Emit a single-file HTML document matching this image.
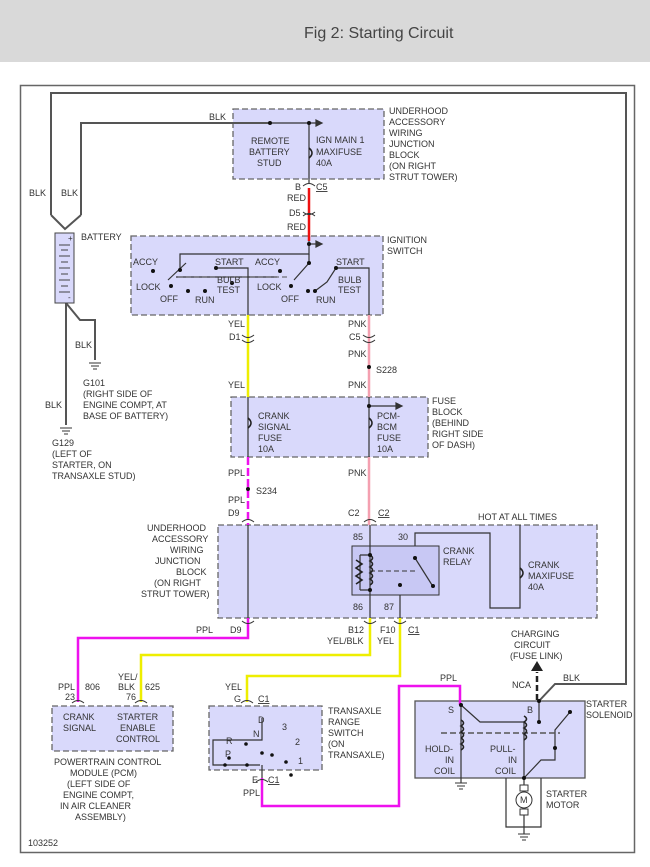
<!DOCTYPE html>
<html><head><meta charset="utf-8"><style>
html,body{margin:0;padding:0;background:#fff;}
svg{display:block}
text{font-family:"Liberation Sans",sans-serif;font-size:9px;fill:#333}
</style></head><body>
<svg width="650" height="867" viewBox="0 0 650 867" xmlns="http://www.w3.org/2000/svg">
<rect x="0" y="0" width="650" height="62" fill="#d9d9d9"/>
<text x="304" y="38" style="font-size:16px;fill:#444">Fig 2: Starting Circuit</text>
<rect x="20.5" y="85.5" width="614" height="767" fill="none" stroke="#666" stroke-width="1.5"/>

<g fill="#d9d9fb" stroke="#666" stroke-width="1.3" stroke-dasharray="6,3">
<rect x="233" y="109" width="151" height="70"/>
<rect x="131" y="236" width="252" height="79"/>
<rect x="231" y="397" width="197" height="60"/>
<rect x="218" y="525" width="379" height="93"/>
<rect x="52" y="706" width="121" height="45"/>
<rect x="209" y="706" width="113" height="64"/>
</g>
<rect x="415" y="701" width="170" height="77" fill="#d9d9fb" stroke="#555" stroke-width="1.3"/>
<rect x="352" y="546" width="87" height="49" fill="#c8c8f4" stroke="#333" stroke-width="1"/>

<g fill="none" stroke="#555" stroke-width="2">
<path d="M51 215 V93 H626 V684 H555 L539 701"/>
<path d="M81 215 V123 H270"/>
<path d="M51 215 L65 229 L81 215"/>
<path d="M66 303 L80 320 H95 V360"/>
<path d="M66 303 V425"/>
</g>
<g fill="none" stroke="#333" stroke-width="1.2">
<path d="M270 123 H320"/><path d="M316 120 L322 123 L316 126Z" fill="#333"/>
<path d="M309 123 V183"/>
<path d="M309 241 V254 H180 V270"/>
<path d="M309 244 H320"/><path d="M316 241 L322 244 L316 247Z" fill="#333"/>
<path d="M309 254 V263 L294 280"/>
<path d="M186 263 L168 280"/>
<path d="M176 277 H277"/>
<path d="M216 268 H248 V315"/>
<path d="M336 268 H369 V315"/>
<path d="M336 268 L327 282 L315 291"/>
<path d="M248 397 V457"/><path d="M369 397 V457"/>
<path d="M369 406 H400"/><path d="M396 403 L402 406 L396 409Z" fill="#333"/>
<path d="M248 525 V618"/>
<path d="M370 525 V618"/><path d="M400 595 V618"/>
<path d="M415 546 V533 H490 V608 H520 V525"/>
<path d="M360 555 V590 M360 555 H370 M360 590 H370"/>
<path d="M415 558 L432 585"/>
<path d="M262 718 V740 H213 V765 H260"/>
<path d="M262 765 V778"/>
<path d="M461 705 V778"/>
<path d="M461 705 L480 722 H524 V778"/>
<path d="M539 701 V722"/>
<path d="M524 778 L541 760 H555 V730 L570 712"/>
<path d="M506 778 V827 H541 V778"/>
<path d="M524 778 V785 M524 815 V834"/>
<path d="M461 778 V783"/>
</g>
<path d="M441 733 H560" stroke="#555" stroke-width="1.5" stroke-dasharray="6,3"/>
<path d="M370 571 H415" stroke="#333" stroke-width="1" stroke-dasharray="5,3"/>
<path d="M178 277 H290" stroke="#555" stroke-dasharray="5,3" stroke-width="1"/>
<path d="M537 700 V672" stroke="#222" stroke-width="2.5" stroke-dasharray="6,3"/>
<path d="M531 671 L537 661 L543 671Z" fill="#222"/>
<g fill="none" stroke="#222" stroke-width="1.6">
<path d="M461 738 q5 -3 0 -6 q5 -3 0 -6 q5 -3 0 -6"/>
<path d="M461 750 q5 -3 0 -6 q5 -3 0 -6"/>
<path d="M524 740 q5 -3 0 -6 q5 -3 0 -6 q5 -3 0 -6 q5 -3 0 -6"/>
<path d="M370 585 q5 -3 0 -6 q5 -3 0 -6 q5 -3 0 -6 q5 -3 0 -6 q5 -3 0 -6"/>
<path d="M356 560 l6 4 l-6 4 l6 4 l-6 4 l6 4 l-6 4"/>
<path d="M309 148 q6 5 0 10 M248 418 q6 5 0 10 M369 418 q6 5 0 10 M520 568 q6 5 0 10"/>
</g>
<circle cx="524" cy="800" r="8" fill="#fff" stroke="#333"/><text x="520" y="803">M</text>
<rect x="520" y="785" width="8" height="6" fill="none" stroke="#333"/><rect x="520" y="809" width="8" height="6" fill="none" stroke="#333"/>
<g fill="none" stroke-width="2.5">
<path d="M309 188 V241" stroke="#ee1111"/>
<path d="M248 315 V397" stroke="#eeee00"/>
<path d="M369 315 V397 M369 457 V525" stroke="#f4a0b0"/>
<path d="M248 457 V525" stroke="#ee11ee" stroke-dasharray="8,3"/>
<path d="M248 618 V638 H78 V702" stroke="#ee11ee"/>
<path d="M370 618 V655 H141 V702" stroke="#eeee00"/>
<path d="M400 618 V676 H247 V702" stroke="#eeee00"/>
<path d="M262 778 V806 H399 V686 H460 V705" stroke="#ee11ee"/>
</g>
<rect x="55" y="233" width="19" height="70" fill="#d9d9fb" stroke="#444"/>
<g stroke="#444"><path d="M59 245h11M61 250h7M59 256h11M61 262h7M59 268h11M61 274h7M59 280h11M61 286h7M59 292h11"/></g>
<text x="68" y="241" style="font-size:8px">+</text><text x="68" y="300" style="font-size:8px">-</text>
<g stroke="#333"><path d="M89 363h12M91 366h8M93 369h4 M60 428h12M62 431h8M64 434h4 M455 783h12M457 786h8M459 789h4 M518 834h12M520 837h8M522 840h4"/></g>
<g fill="#111">
<circle cx="270" cy="123" r="2"/><circle cx="309" cy="123" r="2"/><circle cx="309" cy="244" r="2"/>
<circle cx="180" cy="270" r="2"/><circle cx="171" cy="286" r="2"/><circle cx="153" cy="271" r="2"/><circle cx="188" cy="291" r="2"/><circle cx="205" cy="291" r="2"/><circle cx="216" cy="268" r="2"/><circle cx="232" cy="283" r="2"/>
<circle cx="309" cy="263" r="2"/><circle cx="291" cy="286" r="2"/><circle cx="280" cy="271" r="2"/><circle cx="308" cy="291" r="2"/><circle cx="315" cy="291" r="2"/><circle cx="336" cy="268" r="2"/>
<circle cx="369" cy="367" r="2"/><circle cx="248" cy="489" r="2"/><circle cx="369" cy="406" r="2"/>
<circle cx="370" cy="555" r="2"/><circle cx="370" cy="590" r="2"/><circle cx="415" cy="558" r="2"/><circle cx="433" cy="586" r="2"/><circle cx="400" cy="585" r="2"/>
<circle cx="262" cy="753" r="1.8"/><circle cx="246" cy="744" r="1.8"/><circle cx="229" cy="758" r="1.8"/><circle cx="225" cy="765" r="1.8"/><circle cx="247" cy="765" r="1.8"/><circle cx="272" cy="755" r="1.8"/><circle cx="286" cy="762" r="1.8"/><circle cx="291" cy="775" r="1.8"/>
<circle cx="461" cy="705" r="2"/><circle cx="539" cy="701" r="2"/><circle cx="539" cy="722" r="2"/><circle cx="570" cy="712" r="2"/><circle cx="555" cy="748" r="2"/><circle cx="524" cy="778" r="2"/>
</g>
<g fill="none" stroke="#333" stroke-width="1">
<path d="M303 186 q6 -5 12 0 M303 216 q6 -5 12 0 M303 212 q6 5 12 0"/>
<path d="M242 335 q6 5 12 0 M242 340 q6 5 12 0 M363 335 q6 5 12 0 M363 340 q6 5 12 0"/>
<path d="M242 522 q6 -5 12 0 M364 522 q6 -5 12 0 M242 621 q6 5 12 0 M364 621 q6 5 12 0 M394 621 q6 5 12 0"/>
<path d="M72 703 q6 -5 12 0 M135 703 q6 -5 12 0 M241 703 q6 -5 12 0 M256 782 q6 -5 12 0"/>
</g>
<text x="209" y="120">BLK</text>
<text x="29" y="196">BLK</text><text x="61" y="196">BLK</text>
<text x="81" y="240">BATTERY</text>
<text x="251" y="144">REMOTE</text><text x="249" y="155">BATTERY</text><text x="257" y="166">STUD</text>
<text x="316" y="143">IGN MAIN 1</text><text x="316" y="155">MAXIFUSE</text><text x="316" y="166">40A</text>
<text x="389" y="114">UNDERHOOD</text><text x="389" y="125">ACCESSORY</text><text x="389" y="136">WIRING</text><text x="389" y="147">JUNCTION</text><text x="389" y="158">BLOCK</text><text x="389" y="169">(ON RIGHT</text><text x="389" y="180">STRUT TOWER)</text>
<text x="295" y="190">B</text><text x="316" y="190" text-decoration="underline">C5</text>
<text x="287" y="201">RED</text><text x="289" y="216">D5</text><text x="287" y="230">RED</text>
<text x="387" y="243">IGNITION</text><text x="387" y="254">SWITCH</text>
<text x="133" y="265">ACCY</text><text x="215" y="265">START</text><text x="255" y="265">ACCY</text><text x="336" y="265">START</text>
<text x="136" y="290">LOCK</text><text x="217" y="283">BULB</text><text x="217" y="293">TEST</text>
<text x="257" y="290">LOCK</text><text x="338" y="283">BULB</text><text x="338" y="293">TEST</text>
<text x="160" y="302">OFF</text><text x="195" y="303">RUN</text><text x="281" y="302">OFF</text><text x="316" y="303">RUN</text>
<text x="228" y="327">YEL</text><text x="229" y="340">D1</text><text x="348" y="327">PNK</text><text x="349" y="340">C5</text>
<text x="348" y="357">PNK</text><text x="376" y="373">S228</text>
<text x="228" y="388">YEL</text><text x="348" y="388">PNK</text>
<text x="75" y="348">BLK</text>
<text x="83" y="386">G101</text><text x="83" y="397">(RIGHT SIDE OF</text><text x="83" y="408">ENGINE COMPT, AT</text><text x="83" y="419">BASE OF BATTERY)</text>
<text x="45" y="408">BLK</text>
<text x="52" y="446">G129</text><text x="52" y="457">(LEFT OF</text><text x="52" y="468">STARTER, ON</text><text x="52" y="479">TRANSAXLE STUD)</text>
<text x="258" y="419">CRANK</text><text x="258" y="430">SIGNAL</text><text x="258" y="441">FUSE</text><text x="258" y="452">10A</text>
<text x="377" y="419">PCM-</text><text x="377" y="430">BCM</text><text x="377" y="441">FUSE</text><text x="377" y="452">10A</text>
<text x="432" y="404">FUSE</text><text x="432" y="415">BLOCK</text><text x="432" y="426">(BEHIND</text><text x="432" y="437">RIGHT SIDE</text><text x="432" y="448">OF DASH)</text>
<text x="228" y="476">PPL</text><text x="348" y="476">PNK</text><text x="256" y="494">S234</text>
<text x="228" y="503">PPL</text><text x="228" y="516">D9</text><text x="348" y="516">C2</text><text x="378" y="516" text-decoration="underline">C2</text>
<text x="478" y="520">HOT AT ALL TIMES</text>
<text x="147" y="531">UNDERHOOD</text><text x="152" y="542">ACCESSORY</text><text x="170" y="553">WIRING</text><text x="155" y="564">JUNCTION</text><text x="176" y="575">BLOCK</text><text x="154" y="586">(ON RIGHT</text><text x="141" y="597">STRUT TOWER)</text>
<text x="353" y="540">85</text><text x="398" y="540">30</text>
<text x="443" y="554">CRANK</text><text x="443" y="565">RELAY</text>
<text x="528" y="568">CRANK</text><text x="528" y="579">MAXIFUSE</text><text x="528" y="590">40A</text>
<text x="353" y="610">86</text><text x="384" y="610">87</text>
<text x="196" y="633">PPL</text><text x="230" y="633">D9</text>
<text x="348" y="633">B12</text><text x="380" y="633">F10</text><text x="408" y="633" text-decoration="underline">C1</text>
<text x="327" y="644">YEL/BLK</text><text x="377" y="644">YEL</text>
<text x="511" y="637">CHARGING</text><text x="514" y="648">CIRCUIT</text><text x="510" y="659">(FUSE LINK)</text>
<text x="440" y="681">PPL</text><text x="512" y="688">NCA</text><text x="563" y="681">BLK</text>
<text x="118" y="680">YEL/</text><text x="118" y="690">BLK</text><text x="145" y="690">625</text><text x="126" y="700">76</text>
<text x="58" y="690">PPL</text><text x="85" y="690">806</text><text x="65" y="700">23</text>
<text x="225" y="690">YEL</text><text x="234" y="702">G</text><text x="258" y="702" text-decoration="underline">C1</text>
<text x="63" y="720">CRANK</text><text x="63" y="731">SIGNAL</text>
<text x="117" y="720">STARTER</text><text x="120" y="731">ENABLE</text><text x="116" y="742">CONTROL</text>
<text x="54" y="765">POWERTRAIN CONTROL</text><text x="70" y="776">MODULE (PCM)</text><text x="67" y="787">(LEFT SIDE OF</text><text x="63" y="798">ENGINE COMPT,</text><text x="60" y="809">IN AIR CLEANER</text><text x="75" y="820">ASSEMBLY)</text>
<text x="258" y="723">D</text><text x="282" y="730">3</text><text x="253" y="737">N</text><text x="295" y="745">2</text>
<text x="226" y="744">R</text><text x="225" y="757">P</text><text x="298" y="764">1</text>
<text x="328" y="714">TRANSAXLE</text><text x="328" y="725">RANGE</text><text x="328" y="736">SWITCH</text><text x="328" y="747">(ON</text><text x="328" y="758">TRANSAXLE)</text>
<text x="252" y="783">E</text><text x="268" y="783" text-decoration="underline">C1</text><text x="243" y="796">PPL</text>
<text x="448" y="713">S</text><text x="527" y="713">B</text>
<text x="586" y="707">STARTER</text><text x="586" y="718">SOLENOID</text>
<text x="425" y="752">HOLD-</text><text x="445" y="763">IN</text><text x="434" y="774">COIL</text>
<text x="490" y="752">PULL-</text><text x="508" y="763">IN</text><text x="495" y="774">COIL</text>
<text x="546" y="797">STARTER</text><text x="546" y="808">MOTOR</text>
<text x="28" y="846">103252</text>
</svg>
</body></html>
